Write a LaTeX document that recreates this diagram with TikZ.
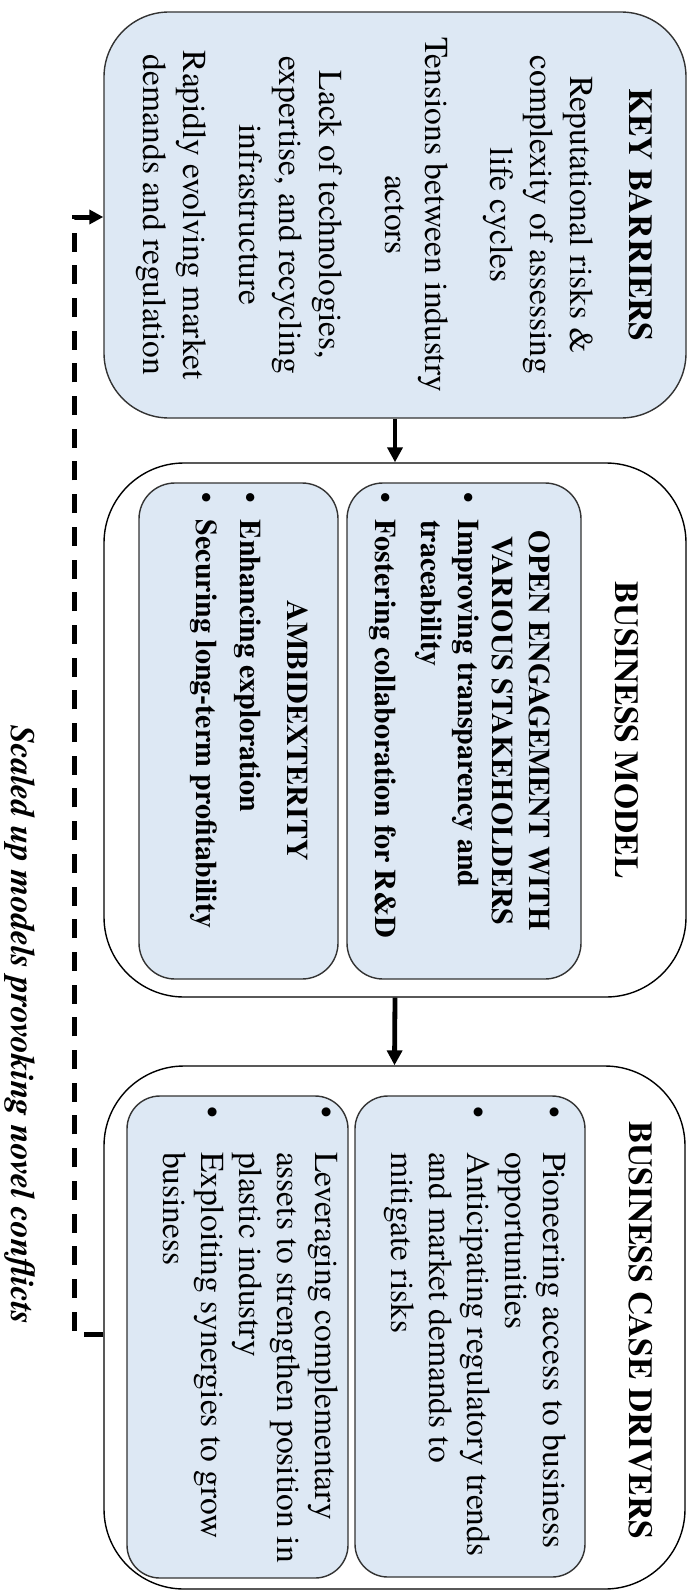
\documentclass[tikz,border=0pt]{standalone}
\usepackage{fontspec}
\setmainfont{TeX Gyre Termes}
\usetikzlibrary{arrows.meta}

\definecolor{boxblue}{HTML}{DDE8F4}
\definecolor{edge}{HTML}{333333}

% font sizes (1pt = 1 unit of the drawing)
\newcommand{\headfont}{\bfseries\fontsize{33.5}{40}\selectfont}
\newcommand{\kbfont}{\fontsize{33.5}{40}\selectfont}
\newcommand{\bmfont}{\bfseries\fontsize{30}{36.5}\selectfont}
\newcommand{\drvfont}{\fontsize{33.5}{38}\selectfont}
% bullet with hanging indent
\newcommand{\bul}[1]{\makebox[#1][l]{\textbullet}}
\newcommand{\gap}[1]{\hspace*{#1}}

\begin{document}
\begin{tikzpicture}[x=1pt,y=-1pt,
  panel/.style={draw=edge, line width=1.4pt, fill=boxblue, inner sep=0pt},
  frame/.style={draw=black, line width=1.4pt, fill=white, inner sep=0pt},
  txt/.style={rotate=-90, inner sep=0pt, outer sep=0pt},
  flow/.style={line width=4.8pt, -{Triangle[length=15pt,width=15pt]}},
  loop/.style={line width=5pt, dash pattern=on 19pt off 13.7pt,
               -{Triangle[length=14pt,width=14pt]}},
]
\useasboundingbox (0,0) rectangle (691,1592);

% ---- Key barriers
\node[panel, rounded corners=65pt, minimum width=582pt, minimum height=406pt]
  (kb) at (395,215) {};
\node[txt, anchor=base, font=\headfont] (kbh) at (629,215) {KEY BARRIERS};
\node[txt, anchor=base, font=\kbfont] (kb1) at (570,215)
  {\begin{tabular}[t]{@{}c@{}}Reputational risks \&\\complexity of assessing\\life cycles\end{tabular}};
\node[txt, anchor=base, font=\kbfont] (kb2) at (425,215)
  {\begin{tabular}[t]{@{}c@{}}Tensions between industry\\actors\end{tabular}};
\node[txt, anchor=base, font=\kbfont] (kb3) at (319,215)
  {\begin{tabular}[t]{@{}c@{}}Lack of technologies,\\expertise, and recycling\\infrastructure\end{tabular}};
\node[txt, anchor=base, font=\kbfont] (kb4) at (183,215)
  {\begin{tabular}[t]{@{}c@{}}Rapidly evolving market\\demands and regulation\end{tabular}};

% ---- Business model
\node[frame, rounded corners=80pt, minimum width=582pt, minimum height=534pt]
  (bm) at (395,730) {};
\node[panel, rounded corners=36pt, minimum width=234pt, minimum height=496pt]
  (oe) at (464,731) {};
\node[panel, rounded corners=36pt, minimum width=199pt, minimum height=496pt]
  (amb) at (238.5,731) {};
\node[txt, anchor=base, font=\headfont] (bmh) at (615,730) {BUSINESS MODEL};
\node[txt, anchor=base, font=\bmfont] (oeh) at (529,731)
  {\begin{tabular}[t]{@{}c@{}}OPEN ENGAGEMENT WITH\\VARIOUS STAKEHOLDERS\end{tabular}};
\node[txt, anchor=base west, font=\bmfont] (oel) at (458,492)
  {\begin{tabular}[t]{@{}l@{}}\bul{28pt}Improving transparency and\\ \gap{28pt}traceability\\[10pt] \bul{28pt}Fostering collaboration for R\&D\end{tabular}};
\node[txt, anchor=base, font=\bmfont] (ambh) at (287,731) {AMBIDEXTERITY};
\node[txt, anchor=base west, font=\bmfont] (ambl) at (240,492)
  {\begin{tabular}[t]{@{}l@{}}\bul{28pt}Enhancing exploration\\[7.5pt] \bul{28pt}Securing long-term profitability\end{tabular}};

% ---- Business case drivers
\node[frame, rounded corners=80pt, minimum width=581pt, minimum height=523pt]
  (drv) at (394.5,1327.5) {};
\node[panel, rounded corners=33pt, minimum width=230pt, minimum height=481pt]
  (dr1) at (470,1336.5) {};
\node[panel, rounded corners=33pt, minimum width=221pt, minimum height=482pt]
  (dr2) at (237.5,1337) {};
\node[txt, anchor=base, font=\headfont] (drvh) at (629,1330) {BUSINESS CASE DRIVERS};
\node[txt, anchor=base west, font=\drvfont] (dr1t) at (543,1106)
  {\begin{tabular}[t]{@{}l@{}}\bul{46pt}Pioneering access to business\\ \gap{46pt}opportunities\\ \bul{46pt}Anticipating regulatory trends\\ \gap{46pt}and market demands to\\ \gap{46pt}mitigate risks\end{tabular}};
\node[txt, anchor=base west, font=\drvfont] (dr2t) at (315,1106)
  {\begin{tabular}[t]{@{}l@{}}\bul{46pt}Leveraging complementary\\ \gap{46pt}assets to strengthen position in\\ \gap{46pt}plastic industry\\ \bul{46pt}Exploiting synergies to grow\\ \gap{46pt}business\end{tabular}};

% ---- flow between stages
\draw[flow] (kb.south) -- (bm.north);
\draw[flow] (bm.south) -- (drv.north);

% ---- feedback loop
\coordinate (loopB) at (74,1334);
\coordinate (loopT) at (74,217);
\draw[loop] (drv.west |- loopB) -- (loopB) -- (loopT) -- (kb.west |- loopT);
\node[txt, anchor=base, font={\bfseries\itshape\fontsize{34}{40}\selectfont}]
  (note) at (11,1025) {Scaled up models provoking novel conflicts};
\end{tikzpicture}
\end{document}
